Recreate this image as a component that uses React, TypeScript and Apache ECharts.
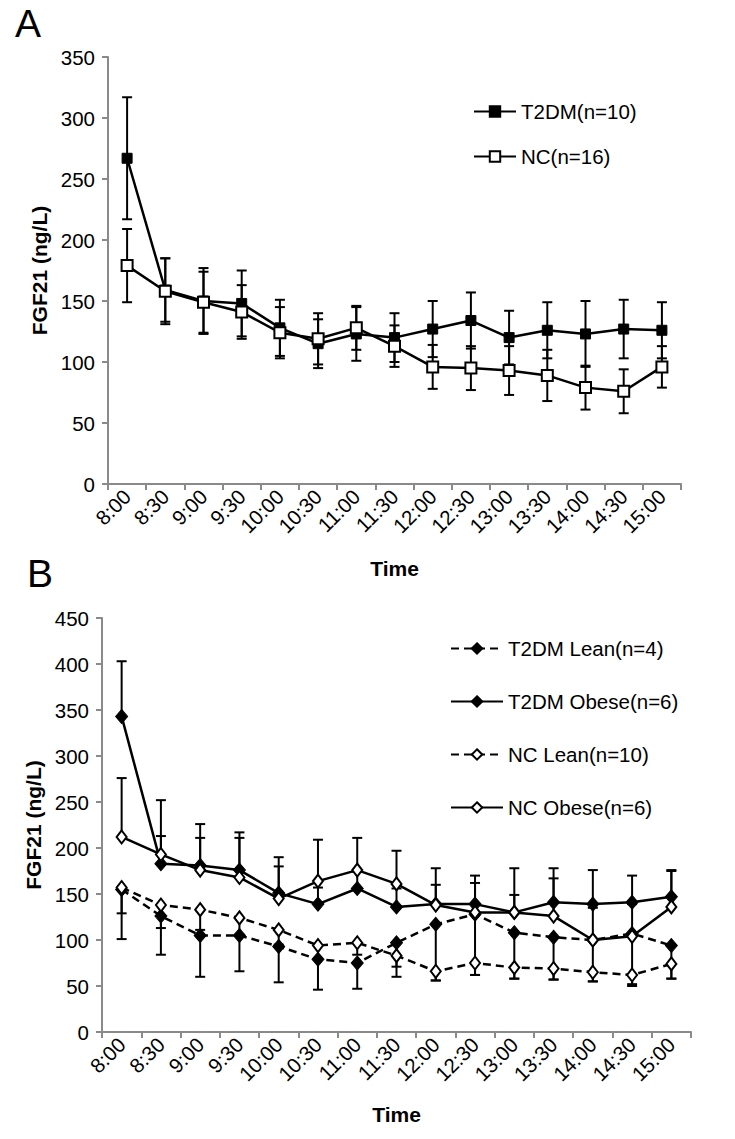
import { useEffect, useRef } from "react";
import * as echarts from "echarts";

const times = ["8:00", "8:30", "9:00", "9:30", "10:00", "10:30", "11:00", "11:30", "12:00", "12:30", "13:00", "13:30", "14:00", "14:30", "15:00"];

// Panel A (mean ± error)
const t2dmA = [267, 159, 150, 148, 128, 115, 123, 120, 127, 134, 120, 126, 123, 127, 126];
const t2dmAErr = [50, 26, 27, 27, 23, 20, 22, 20, 23, 23, 22, 23, 27, 24, 23];
const ncA = [179, 158, 149, 141, 124, 119, 128, 113, 96, 95, 93, 89, 79, 76, 96];
const ncAErr = [30, 27, 25, 22, 21, 21, 18, 17, 18, 18, 20, 21, 18, 18, 17];

// Panel B (obese: upward error, lean: downward error)
const t2dmLean = [155, 126, 105, 105, 93, 79, 75, 97, 117, 128, 108, 103, 100, 107, 94];
const t2dmLeanErr = [54, 42, 45, 39, 39, 33, 28, 37, 61, 66, 50, 46, 45, 55, 36];
const t2dmObese = [343, 183, 181, 176, 151, 139, 156, 136, 139, 139, 130, 141, 139, 141, 147];
const t2dmObeseErr = [60, 30, 30, 35, 29, 18, 18, 20, 39, 31, 48, 37, 37, 29, 28];
const ncLean = [157, 138, 133, 124, 111, 94, 97, 83, 66, 75, 70, 69, 65, 62, 74];
const ncLeanErr = [28, 25, 22, 18, 16, 15, 13, 12, 10, 13, 12, 12, 10, 12, 16];
const ncObese = [212, 193, 176, 168, 145, 164, 176, 161, 138, 130, 130, 126, 100, 104, 136];
const ncObeseErr = [64, 59, 50, 49, 45, 45, 35, 36, 22, 32, 19, 41, 35, 35, 40];

const FONT = "'Liberation Sans', Arial, sans-serif";
const AXIS_GRAY = "#8a8a8a";
const TICK_FS = 20.5;
const NAME_FS = 21;
const LEGEND_FS = 20.5;

function errSeries(vals: number[], errs: number[], dir: "both" | "up" | "down", axis: number) {
  return {
    type: "custom",
    xAxisIndex: axis,
    yAxisIndex: axis,
    z: 1,
    silent: true,
    data: vals.map((v, i) => [i, v, errs[i]]),
    encode: { x: 0, y: 1 },
    renderItem: (_params: any, api: any) => {
      const x = api.value(0);
      const v = api.value(1);
      const e = api.value(2);
      const hi = dir === "down" ? v : v + e;
      const lo = dir === "up" ? v : v - e;
      const pHi = api.coord([x, hi]);
      const pLo = api.coord([x, lo]);
      const w = 5;
      const st = { stroke: "#000", lineWidth: 2 };
      const children: any[] = [
        { type: "line", shape: { x1: pHi[0], y1: pHi[1], x2: pLo[0], y2: pLo[1] }, style: st },
      ];
      if (dir !== "down") children.push({ type: "line", shape: { x1: pHi[0] - w, y1: pHi[1], x2: pHi[0] + w, y2: pHi[1] }, style: st });
      if (dir !== "up") children.push({ type: "line", shape: { x1: pLo[0] - w, y1: pLo[1], x2: pLo[0] + w, y2: pLo[1] }, style: st });
      return { type: "group", children };
    },
  };
}

function lineSeries(name: string, vals: number[], axis: number, symbol: string, size: any, filled: boolean, dashed: boolean) {
  return {
    type: "line",
    name,
    xAxisIndex: axis,
    yAxisIndex: axis,
    data: vals,
    z: 3,
    symbol,
    symbolSize: size,
    showAllSymbol: true,
    itemStyle: { color: filled ? "#000" : "#fff", borderColor: "#000", borderWidth: filled ? 1 : 2 },
    lineStyle: { color: "#000", width: 2.5, type: dashed ? [8, 5] : "solid" },
    emphasis: { disabled: true },
  };
}

function xAxis(grid: number) {
  return {
    type: "category",
    gridIndex: grid,
    data: times,
    boundaryGap: true,
    name: "Time",
    nameLocation: "middle",
    nameGap: grid === 0 ? 74 : 72,
    nameTextStyle: { fontFamily: FONT, fontSize: NAME_FS, fontWeight: "bold", color: "#000" },
    axisLine: { show: true, lineStyle: { color: AXIS_GRAY, width: 2 } },
    axisTick: { show: true, alignWithLabel: false, interval: 0, length: 6, lineStyle: { color: AXIS_GRAY, width: 2 } },
    axisLabel: { interval: 0, rotate: 45, margin: 9, fontFamily: FONT, fontSize: TICK_FS, color: "#000" },
    splitLine: { show: false },
  };
}

function yAxis(grid: number, max: number) {
  return {
    type: "value",
    gridIndex: grid,
    min: 0,
    max,
    interval: 50,
    name: "FGF21 (ng/L)",
    nameLocation: "middle",
    nameGap: grid === 0 ? 58 : 57,
    nameTextStyle: { fontFamily: FONT, fontSize: NAME_FS, fontWeight: "bold", color: "#000" },
    axisLine: { show: true, lineStyle: { color: AXIS_GRAY, width: 2 } },
    axisTick: { show: true, length: 6, lineStyle: { color: AXIS_GRAY, width: 2 } },
    axisLabel: { margin: 13, fontFamily: FONT, fontSize: TICK_FS, color: "#000" },
    splitLine: { show: false },
  };
}

export default function App() {
  const ref = useRef<HTMLDivElement>(null);
  useEffect(() => {
    const chart = echarts.init(ref.current!, null, { renderer: "svg" });
    const option: any = {
      animation: false,
      backgroundColor: "#fff",
      textStyle: { fontFamily: FONT },
      title: [
        { text: "A", left: 15, top: 4, padding: 0, textStyle: { fontFamily: FONT, fontSize: 39, fontWeight: "normal", color: "#000" } },
        { text: "B", left: 27, top: 554, padding: 0, textStyle: { fontFamily: FONT, fontSize: 39, fontWeight: "normal", color: "#000" } },
      ],
      grid: [
        { left: 108, top: 57, width: 573, height: 427 },
        { left: 102, top: 618, width: 589, height: 414 },
      ],
      xAxis: [xAxis(0), xAxis(1)],
      yAxis: [yAxis(0, 350), yAxis(1, 450)],
      legend: [
        {
          data: ["T2DM(n=10)", "NC(n=16)"],
          orient: "vertical",
          left: 473,
          top: 101,
          padding: 0,
          itemWidth: 42,
          itemHeight: 13,
          itemGap: 24,
          selectedMode: false,
          textStyle: { fontFamily: FONT, fontSize: LEGEND_FS, color: "#000" },
        },
        {
          data: ["T2DM Lean(n=4)", "T2DM Obese(n=6)", "NC Lean(n=10)", "NC Obese(n=6)"],
          orient: "vertical",
          left: 450,
          top: 638,
          padding: 0,
          itemWidth: 52,
          itemHeight: 13,
          itemGap: 32,
          selectedMode: false,
          textStyle: { fontFamily: FONT, fontSize: LEGEND_FS, color: "#000" },
        },
      ],
      series: [
        errSeries(t2dmA, t2dmAErr, "both", 0),
        errSeries(ncA, ncAErr, "both", 0),
        lineSeries("T2DM(n=10)", t2dmA, 0, "rect", 10, true, false),
        lineSeries("NC(n=16)", ncA, 0, "rect", 11, false, false),
        errSeries(t2dmLean, t2dmLeanErr, "down", 1),
        errSeries(t2dmObese, t2dmObeseErr, "up", 1),
        errSeries(ncLean, ncLeanErr, "down", 1),
        errSeries(ncObese, ncObeseErr, "up", 1),
        lineSeries("T2DM Lean(n=4)", t2dmLean, 1, "diamond", [12, 14], true, true),
        lineSeries("T2DM Obese(n=6)", t2dmObese, 1, "diamond", [12, 14], true, false),
        lineSeries("NC Lean(n=10)", ncLean, 1, "diamond", [10, 13], false, true),
        lineSeries("NC Obese(n=6)", ncObese, 1, "diamond", [10, 13], false, false),
      ],
    };
    chart.setOption(option);
    return () => chart.dispose();
  }, []);
  return <div ref={ref} style={{ position: "absolute", left: 0, top: 0, width: 735, height: 1139, background: "#fff" }} />;
}
